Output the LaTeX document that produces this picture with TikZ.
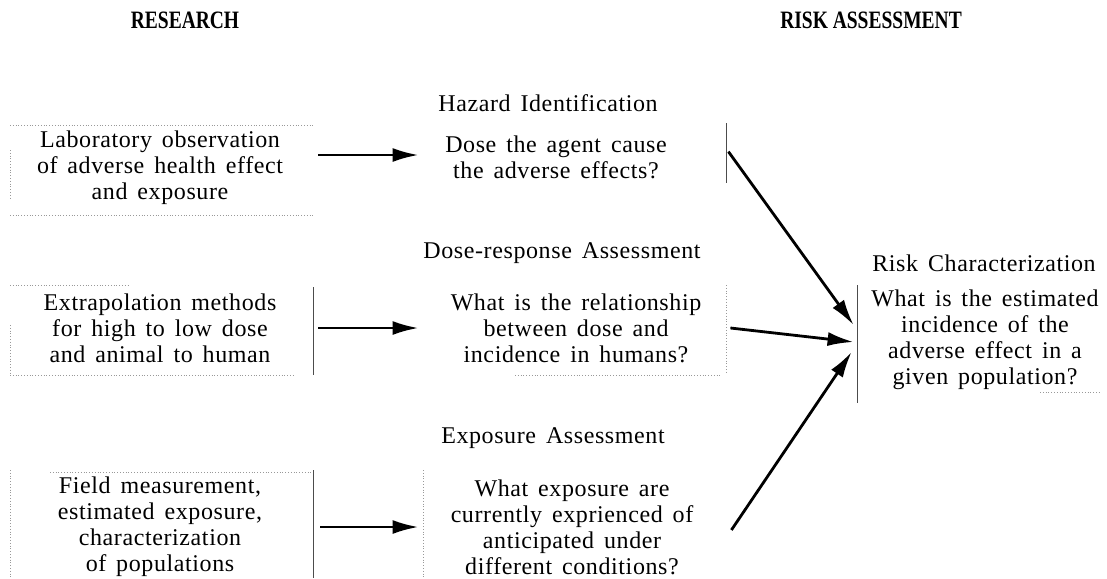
\documentclass[tikz,border=0pt]{standalone}
\usepackage{fontspec}
\setmainfont{Liberation Serif}
\newfontfamily\bodyfont[LetterSpace=2.5,WordSpace=1.5]{Liberation Serif}
\usetikzlibrary{arrows.meta}
\begin{document}
\begin{tikzpicture}[x=0.5pt,y=-0.5pt,
  txt/.style={font=\bodyfont\fontsize{12}{13}\selectfont, align=center, inner sep=0pt},
  ttl/.style={font=\bodyfont\fontsize{12}{13}\selectfont, inner sep=0pt},
  hdr/.style={font=\bfseries\fontsize{12.5}{14}\selectfont, inner sep=0pt},
  boxn/.style={minimum width=151.5pt, inner sep=0pt, draw=none},
  faint/.style={draw=black!40, line width=0.4pt, densely dotted},
  edgeline/.style={draw=black!70, line width=0.5pt},
  arr/.style={line width=1.4pt, -{Latex[length=13pt,width=7pt]}}]

\useasboundingbox (0,0) rectangle (1107,578);

% headers
\node[hdr] (hres) at (185,20) {\scalebox{0.78}[1]{RESEARCH}};
\node[hdr] (hrisk) at (871,20) {\scalebox{0.78}[1]{RISK ASSESSMENT}};

% box geometry nodes
\node[boxn, minimum height=45pt] (bL1) at (161.5,170) {};
\node[boxn, minimum height=45pt] (bL2) at (161.5,330) {};
\node[boxn, minimum height=53pt] (bL3) at (161.5,525) {};
\node[boxn, minimum height=33.5pt] (bM1) at (574.5,156.5) {};
\node[boxn, minimum height=45pt] (bM2) at (574.5,330) {};
\node[boxn, minimum height=53pt] (bM3) at (574.5,525) {};
\node[boxn, minimum width=124pt, minimum height=59pt] (bR) at (981,344) {};

% titles
\node[ttl] (tHI) at (548,103) {Hazard Identification};
\node[ttl] (tDR) at (562,253) {Dose-response Assessment};
\node[ttl] (tEA) at (553,438) {Exposure Assessment};
\node[ttl] (tRC) at (984,263) {Risk Characterization};

% texts
\node[txt] (xL1) at (160,168) {Laboratory observation\\of adverse health effect\\and exposure};
\node[txt] (xL2) at (160,328) {Extrapolation methods\\for high to low dose\\and animal to human};
\node[txt] (xL3) at (160,527) {Field measurement,\\estimated exposure,\\characterization\\of populations};
\node[txt] (xM1) at (556,157) {Dose the agent cause\\the adverse effects?};
\node[txt] (xM2) at (576,328) {What is the relationship\\between dose and\\incidence in humans?};
\node[txt] (xM3) at (572,527) {What exposure are\\currently exprienced of\\anticipated under\\different conditions?};
\node[txt] (xR) at (985,340) {What is the estimated\\incidence of the\\adverse effect in a\\given population?};

% box border fragments
\draw[faint] (10,125) -- (313,125);
\draw[faint] (10,150) -- (10,200);
\draw[faint] (10,215) -- (313,215);
\draw[faint] (10,285) -- (130,285);
\draw[faint] (10,325) -- (10,375);
\draw[faint] (10,375) -- (295,375);
\draw[edgeline] (313,287) -- (313,375);
\draw[edgeline] (726,123) -- (726,183);
\draw[faint] (726,285) -- (726,373);
\draw[faint] (515,375) -- (720,375);
\draw[faint] (50,472) -- (313,472);
\draw[faint] (10,470) -- (10,578);
\draw[edgeline] (313,470) -- (313,578);
\draw[faint] (423,470) -- (423,578);
\draw[edgeline] (857,285) -- (857,403);
\draw[faint] (1040,392) -- (1100,392);

% arrows research -> risk assessment
\draw[arr] ([xshift=2.5pt,yshift=7.5pt]bL1.east) coordinate (a1) -- ([xshift=-2pt]bM1.west |- a1);
\draw[arr] ([xshift=2.5pt,yshift=1pt]bL2.east) coordinate (a2) -- ([xshift=-2pt]bM2.west |- a2);
\draw[arr] ([xshift=3.5pt,yshift=-1pt]bL3.east) coordinate (a3) -- ([xshift=-2pt]bM3.west |- a3);

% arrows to risk characterization
\draw[arr] ([xshift=1pt,yshift=-14.5pt]bM1.north east) -- ([xshift=-1.5pt,yshift=9.5pt]bR.west);
\draw[arr] ([xshift=2pt,yshift=1pt]bM2.east) -- ([xshift=-1.5pt,yshift=1pt]bR.west);
\draw[arr] ([xshift=2.5pt,yshift=-2.5pt]bM3.east) -- ([xshift=-2.5pt,yshift=-4pt]bR.west);
\end{tikzpicture}
\end{document}
